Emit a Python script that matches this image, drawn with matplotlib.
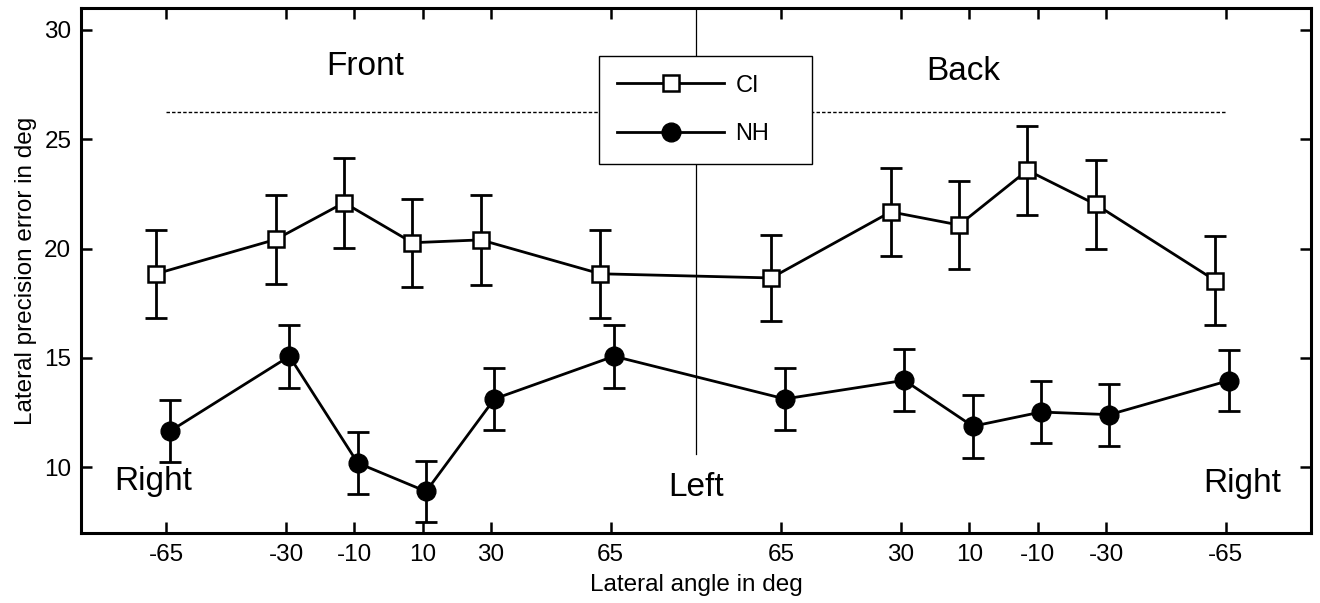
import matplotlib
matplotlib.use("Agg")
import matplotlib.pyplot as plt
import numpy as np

plt.rcParams['font.family'] = ['Liberation Sans', 'DejaVu Sans']

# ---- data ----
lateral_angle = [-65, -30, -10, 10, 30, 65, 65, 30, 10, -10, -30, -65]
hemisphere = ['front'] * 6 + ['back'] * 6
ci_mean = [18.85, 20.42, 22.10, 20.27, 20.40, 18.85, 18.66, 21.68, 21.08, 23.58, 22.02, 18.54]
ci_err = [2.00, 2.05, 2.05, 2.02, 2.05, 2.00, 1.98, 2.02, 2.03, 2.03, 2.02, 2.03]
nh_mean = [11.65, 15.08, 10.20, 8.90, 13.13, 15.08, 13.13, 13.98, 11.88, 12.53, 12.41, 13.97]
nh_err = [1.42, 1.45, 1.40, 1.40, 1.43, 1.45, 1.43, 1.42, 1.45, 1.42, 1.41, 1.41]
tick_labels = [str(a) for a in lateral_angle]

# position along the horizontal plane: front = lateral angle, back = 180 - lateral angle
pos = np.array([a if h == 'front' else 180 - a for a, h in zip(lateral_angle, hemisphere)], float)
ci_shift, nh_shift = -3.0, 1.0

fig = plt.figure(figsize=(13.2, 6.03), dpi=100)
ax = fig.add_axes([81/1320, 1 - 533/603, 1230/1320, 525/603])

lw = 2.0
ax.errorbar(pos + ci_shift, ci_mean, yerr=ci_err, fmt='none', ecolor='black',
            elinewidth=lw, capsize=8, capthick=lw, zorder=2)
ax.plot(pos + ci_shift, ci_mean, '-', color='black', lw=lw, marker='s', ms=11.5,
        mfc='white', mec='black', mew=1.8, zorder=3, label='CI')
ax.errorbar(pos + nh_shift, nh_mean, yerr=nh_err, fmt='none', ecolor='black',
            elinewidth=lw, capsize=8, capthick=lw, zorder=2)
ax.plot(pos + nh_shift, nh_mean, '-', color='black', lw=lw, marker='o', ms=13.5,
        mfc='black', mec='black', zorder=3, label='NH')

# reference lines
ax.plot([pos[0], pos[-1]], [26.25, 26.25], color='black', lw=1.0,
        linestyle=(0, (2.5, 1.5)), zorder=1)
ax.plot([90, 90], [10.6, 31], color='black', lw=0.9, zorder=1)

ax.set_xlim(-90, 270)
ax.set_ylim(7, 31)
ax.set_xticks(pos)
ax.set_xticklabels(tick_labels)
ax.set_yticks([10, 15, 20, 25, 30])
ax.tick_params(axis='both', direction='in', length=8, width=1.8, labelsize=17.5,
               top=True, right=True)
ax.tick_params(axis='x', pad=8)
ax.tick_params(axis='y', pad=7)
for s in ax.spines.values():
    s.set_linewidth(2.2)

ax.set_xlabel('Lateral angle in deg', fontsize=17.5)
ax.set_ylabel('Lateral precision error in deg', fontsize=17.5)
ax.xaxis.set_label_coords(0.5, -0.078)
ax.yaxis.set_label_coords(-0.036, 0.5)

tfs = 24
ax.text(-6.7, 27.94, 'Front', fontsize=tfs, ha='center', va='baseline')
ax.text(168.1, 27.70, 'Back', fontsize=tfs, ha='center', va='baseline')
ax.text(-68.9, 8.95, 'Right', fontsize=tfs, ha='center', va='baseline')
ax.text(89.9, 8.67, 'Left', fontsize=tfs, ha='center', va='baseline')
ax.text(249.8, 8.87, 'Right', fontsize=tfs, ha='center', va='baseline')

leg = ax.legend(loc='center', bbox_to_anchor=((599-81)/1230, (533-163)/525,
                (812-599)/1230, (163-57)/525), mode='expand', fontsize=17,
                handlelength=4.5, handletextpad=0.5, labelspacing=1.14,
                borderpad=0.78, borderaxespad=0, fancybox=False, framealpha=1,
                edgecolor='black')
leg.get_frame().set_linewidth(1.0)
leg.set_zorder(5)

fig.savefig('out.png', dpi=100)
